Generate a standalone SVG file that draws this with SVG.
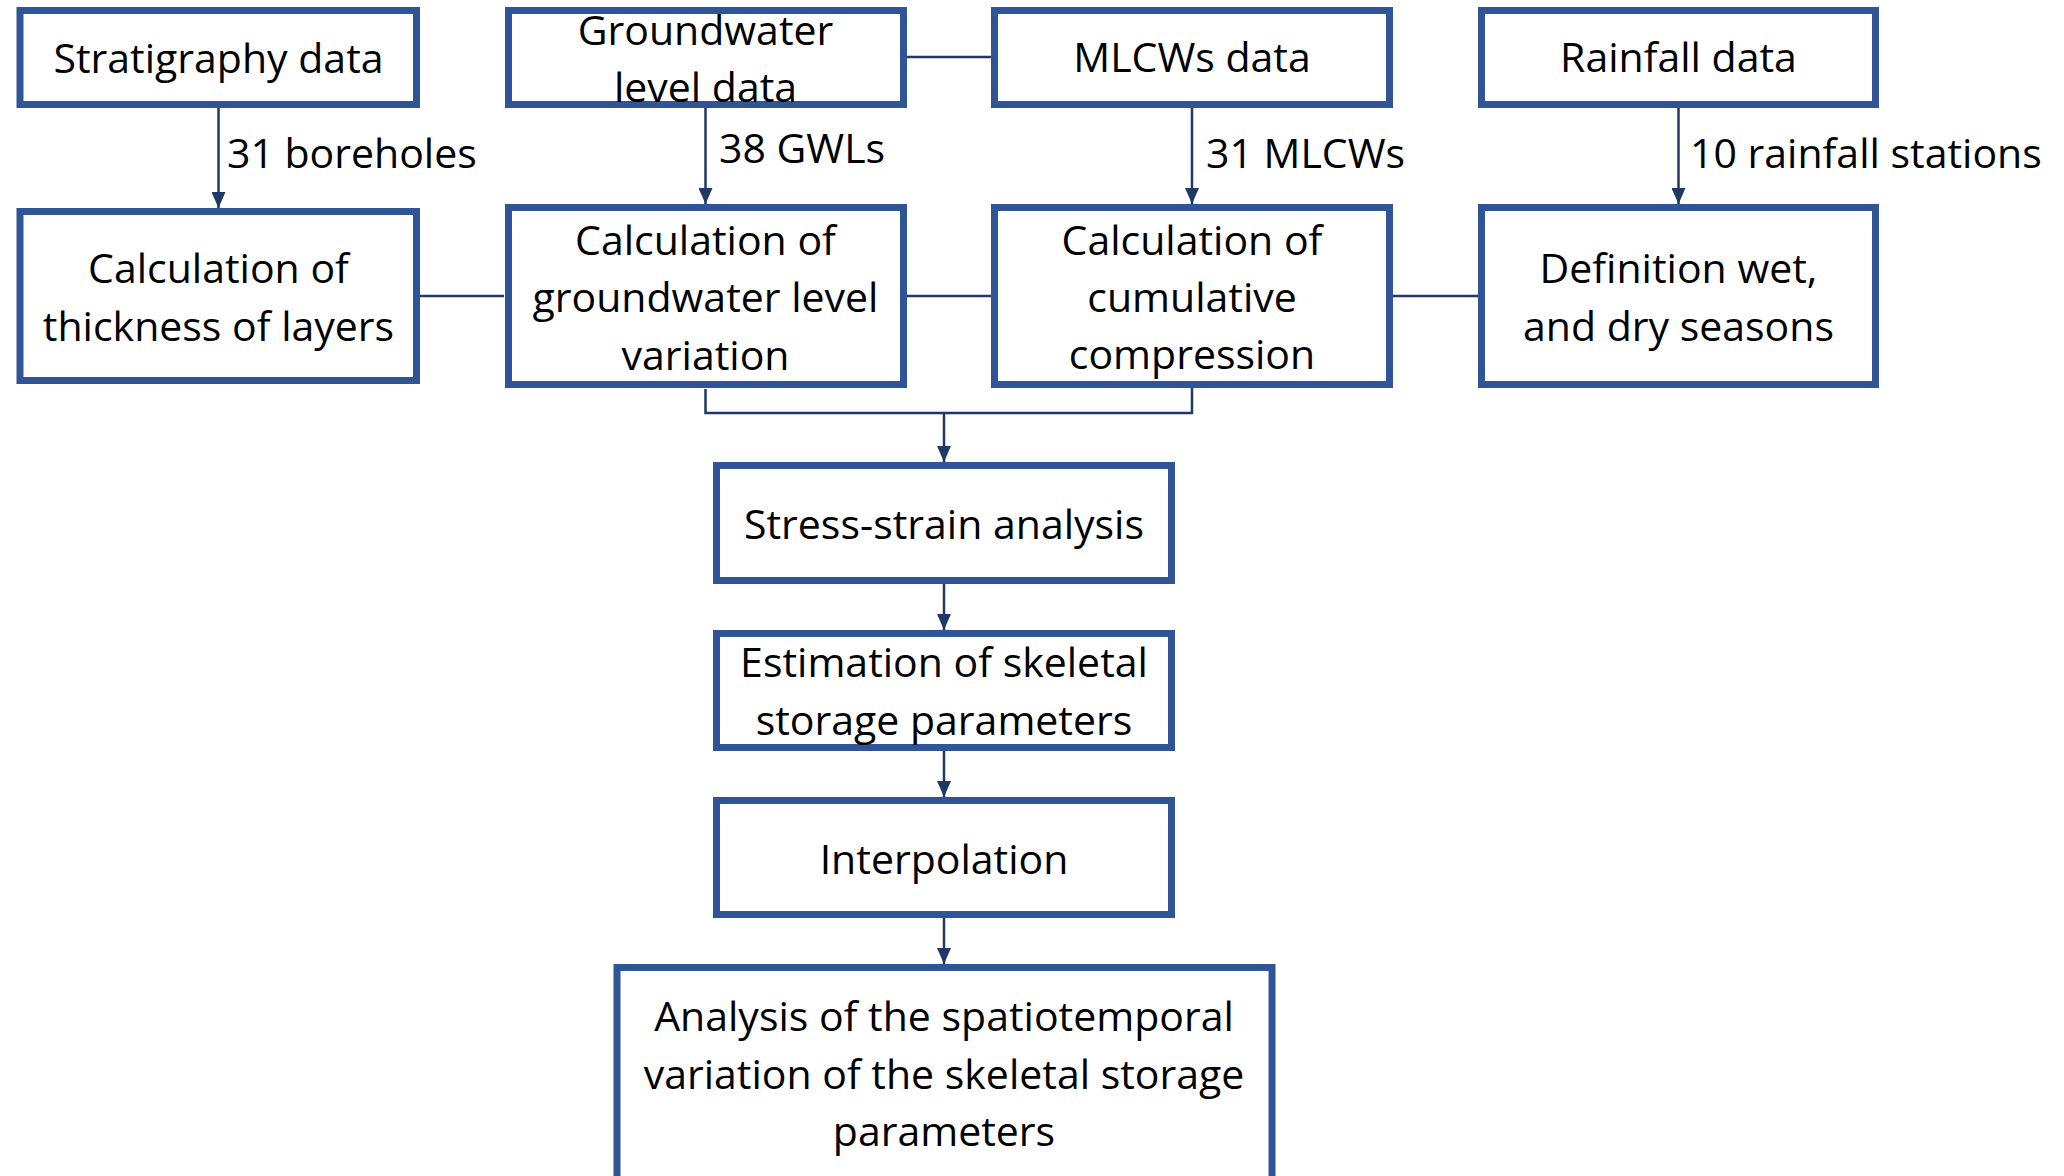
<svg xmlns="http://www.w3.org/2000/svg" width="2064" height="1176" viewBox="0 0 2064 1176">
<style>
.box{fill:#fff;stroke:#2F5597;stroke-width:7}
.t{font-family:"Open Sans","Liberation Sans",sans-serif;font-size:41px;fill:#000;text-anchor:middle}
.lbl{font-family:"Open Sans","Liberation Sans",sans-serif;font-size:41px;fill:#000;text-anchor:start}
.c{fill:none;stroke:#203864;stroke-width:2.5}
</style>
<defs>
<marker id="ah" markerUnits="userSpaceOnUse" markerWidth="16" markerHeight="14" refX="16" refY="7" orient="auto">
<path d="M0,0 L16,7 L0,14 Z" fill="#203864"/>
</marker>
</defs>
<rect width="2064" height="1176" fill="#fff"/>
<g id="connectors">
<line class="c" x1="218.5" y1="108" x2="218.5" y2="208" marker-end="url(#ah)"/>
<line class="c" x1="705.5" y1="108" x2="705.5" y2="204" marker-end="url(#ah)"/>
<line class="c" x1="1192" y1="108" x2="1192" y2="204" marker-end="url(#ah)"/>
<line class="c" x1="1678.5" y1="107" x2="1678.5" y2="204" marker-end="url(#ah)"/>
<line class="c" x1="907" y1="57" x2="991" y2="57"/>
<line class="c" x1="420" y1="296" x2="504" y2="296"/>
<line class="c" x1="907" y1="296" x2="991" y2="296"/>
<line class="c" x1="1393" y1="296" x2="1478" y2="296"/>
<path class="c" d="M705.5,389 V413 H1192 V388"/>
<line class="c" x1="944" y1="413" x2="944" y2="462" marker-end="url(#ah)"/>
<line class="c" x1="944" y1="584" x2="944" y2="630" marker-end="url(#ah)"/>
<line class="c" x1="944" y1="751" x2="944" y2="797" marker-end="url(#ah)"/>
<line class="c" x1="944" y1="918" x2="944" y2="964" marker-end="url(#ah)"/>
<text class="lbl" x="227" y="168">31 boreholes</text>
<text class="lbl" x="719" y="163">38 GWLs</text>
<text class="lbl" x="1206" y="168">31 MLCWs</text>
<text class="lbl" x="1690" y="168">10 rainfall stations</text>
</g>
<g id="stratigraphy">
<rect class="box" x="20" y="10.5" width="396.5" height="94"/>
<text class="t" x="218.5" y="73">Stratigraphy data</text>
</g>
<g id="groundwater-data">
<rect class="box" x="508.5" y="10.5" width="395" height="94"/>
<text class="t" x="705.5" y="45">Groundwater</text>
<text class="t" x="705.5" y="102">level data</text>
</g>
<g id="mlcws-data">
<rect class="box" x="994.5" y="10.5" width="395" height="94"/>
<text class="t" x="1192" y="72">MLCWs data</text>
</g>
<g id="rainfall-data">
<rect class="box" x="1481.5" y="10.5" width="394" height="94"/>
<text class="t" x="1678.5" y="72">Rainfall data</text>
</g>
<g id="calc-thickness">
<rect class="box" x="20" y="211.5" width="396.5" height="169"/>
<text class="t" x="218.5" y="283">Calculation of</text>
<text class="t" x="218.5" y="341">thickness of layers</text>
</g>
<g id="calc-gwl">
<rect class="box" x="508.5" y="207.5" width="395" height="177"/>
<text class="t" x="705.5" y="255">Calculation of</text>
<text class="t" x="705.5" y="312">groundwater level</text>
<text class="t" x="705.5" y="370">variation</text>
</g>
<g id="calc-compression">
<rect class="box" x="994.5" y="207.5" width="395" height="177"/>
<text class="t" x="1192" y="255">Calculation of</text>
<text class="t" x="1192" y="312">cumulative</text>
<text class="t" x="1192" y="369">compression</text>
</g>
<g id="seasons">
<rect class="box" x="1481.5" y="207.5" width="394" height="177"/>
<text class="t" x="1678.5" y="283">Definition wet,</text>
<text class="t" x="1678.5" y="341">and dry seasons</text>
</g>
<g id="stress-strain">
<rect class="box" x="716.5" y="465.5" width="455" height="115"/>
<text class="t" x="944" y="539">Stress-strain analysis</text>
</g>
<g id="estimation">
<rect class="box" x="716.5" y="633.5" width="455" height="114"/>
<text class="t" x="944" y="677">Estimation of skeletal</text>
<text class="t" x="944" y="735">storage parameters</text>
</g>
<g id="interpolation">
<rect class="box" x="716.5" y="800.5" width="455" height="114"/>
<text class="t" x="944" y="874">Interpolation</text>
</g>
<g id="analysis">
<rect class="box" x="617" y="967.5" width="655" height="260"/>
<text class="t" x="944" y="1031">Analysis of the spatiotemporal</text>
<text class="t" x="944" y="1089">variation of the skeletal storage</text>
<text class="t" x="944" y="1146">parameters</text>
</g>
</svg>
